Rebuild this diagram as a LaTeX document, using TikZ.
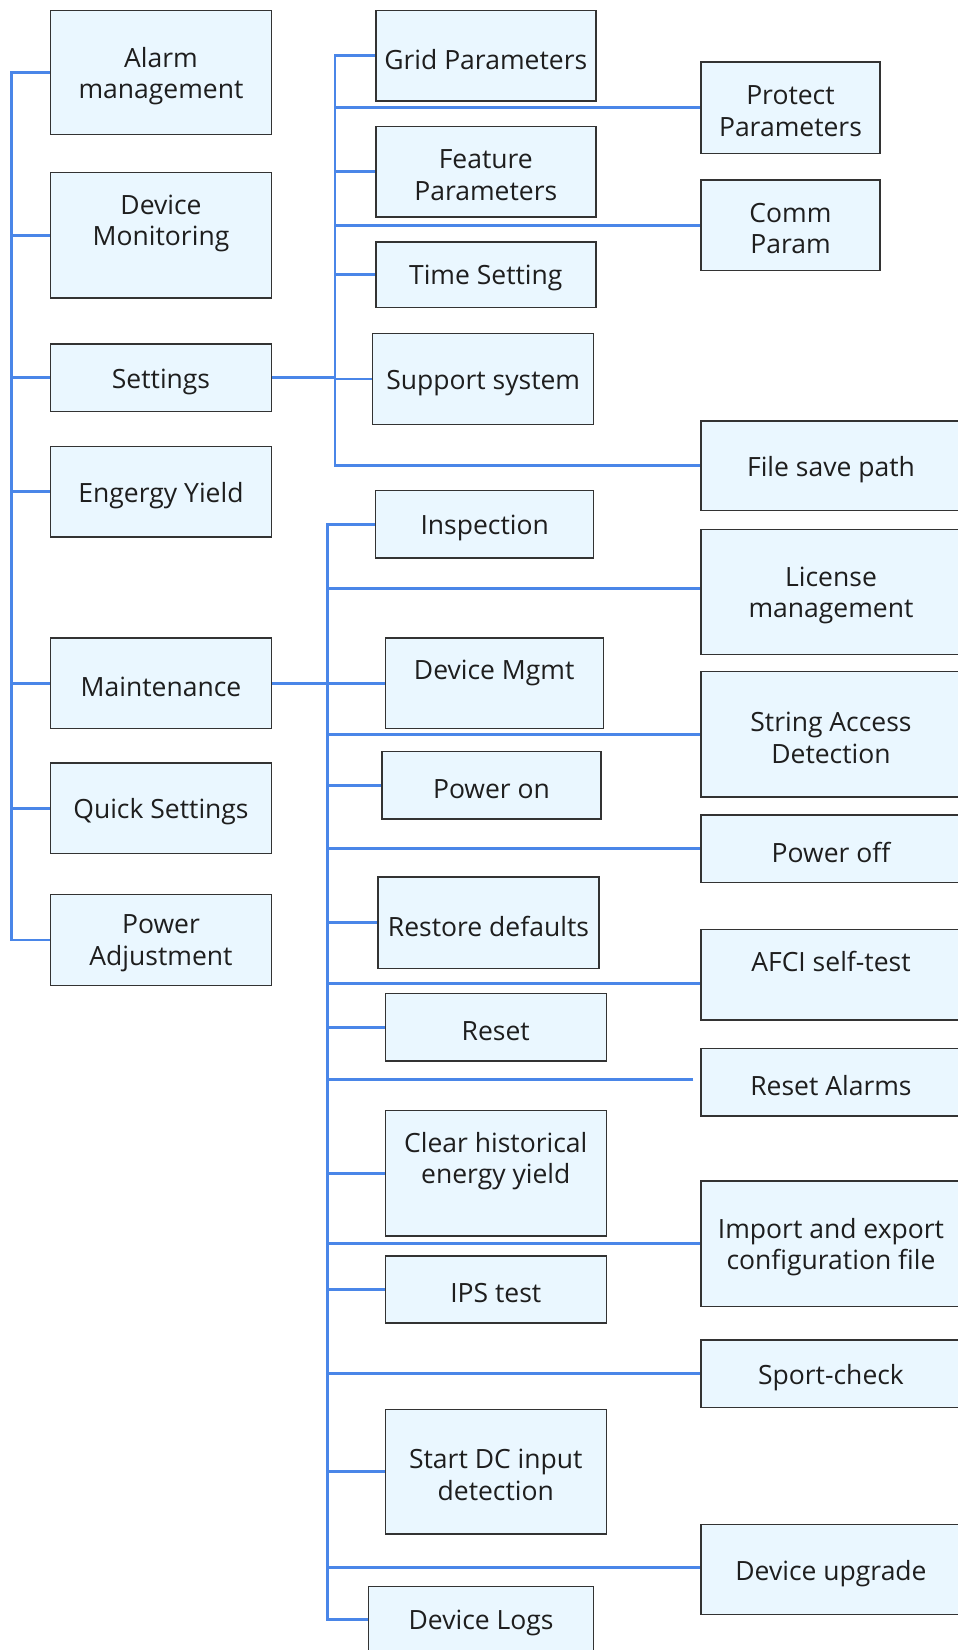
\documentclass[tikz,border=0pt]{standalone}
\usepackage{fontspec}
\setmainfont{Open Sans}
\usetikzlibrary{backgrounds}
\definecolor{boxfill}{HTML}{EAF7FF}
\definecolor{lineblue}{HTML}{4A86E8}
\definecolor{boxborder}{HTML}{333333}
\definecolor{txt}{HTML}{1E1E1E}
\newcommand{\bfnt}{\fontsize{26.5}{31.5}\selectfont}
% \mybox{name}{cx}{cy}{width}{height}{text}{text shift}
\newcommand{\mybox}[7]{%
  \node[box, minimum width=#4pt, minimum height=#5pt] (#1) at (#2,#3) {};
  \node[lbl] (#1-t) at ([yshift=#7pt]#1.center) {#6};}
\begin{document}
\begin{tikzpicture}[x=1pt,y=-1pt,
  box/.style={draw=boxborder, line width=1.4pt, fill=boxfill, inner sep=0pt},
  lbl/.style={inner sep=0pt, align=center, font=\bfnt, text=txt},
  conn/.style={draw=lineblue, line width=2.7pt, line join=miter}]
\begin{scope}[on background layer]
\fill[white] (0,0) rectangle (958,1650);
\end{scope}
\useasboundingbox (0,0) rectangle (958,1650);

% left column
\mybox{alarm}{161}{72.6}{221}{124.2}{Alarm\\management}{-3.4}
\mybox{devmon}{161}{235.3}{221}{125.3}{Device\\Monitoring}{11.9}
\mybox{settings}{161}{377.8}{221}{67.7}{Settings}{-4}
\mybox{energy}{161}{491.6}{221}{90.6}{Engergy Yield}{-3.7}
\mybox{maint}{161}{683.2}{221}{90.5}{Maintenance}{-3.7}
\mybox{quick}{161}{808.3}{221}{90.7}{Quick Settings}{-3.7}
\mybox{padj}{161}{940}{221}{90.5}{Power\\Adjustment}{-3.4}

% settings children
\mybox{grid}{485.8}{55.7}{220}{90.5}{Grid Parameters}{-3.7}
\mybox{protect}{790.5}{107.8}{179}{91.7}{Protect\\Parameters}{-3.4}
\mybox{feature}{485.8}{171.6}{220}{90.6}{Feature\\Parameters}{-3.4}
\mybox{comm}{790.5}{225.2}{179}{90.5}{Comm\\Param}{-3.4}
\mybox{time}{485.8}{274.7}{220}{65.4}{Time Setting}{-3.7}
\mybox{support}{483.2}{379}{221}{90.5}{Support system}{-3.7}
\mybox{filesave}{831}{465.8}{260}{89.6}{File save path}{-3.7}

% maintenance children
\mybox{insp}{484.7}{524.3}{218}{67.4}{Inspection}{-3.7}
\mybox{license}{831}{592.1}{260}{125.3}{License\\management}{-3.4}
\mybox{devmgmt}{494.2}{683.2}{218}{90.5}{Device Mgmt}{9.8}
\mybox{string}{831}{734.3}{260}{125.4}{String Access\\Detection}{-3.4}
\mybox{poweron}{491.5}{785.3}{219}{67.4}{Power on}{-3.7}
\mybox{poweroff}{831}{848.5}{260}{67.4}{Power off}{-3.7}
\mybox{restore}{488.5}{922.7}{221}{91.5}{Restore defaults}{-3.7}
\mybox{afci}{831}{974.7}{260}{90.5}{AFCI self-test}{13.5}
\mybox{reset}{495.8}{1027.4}{221}{67.3}{Reset}{-3.7}
\mybox{resetal}{831}{1082.2}{260}{67.5}{Reset Alarms}{-3.7}
\mybox{clear}{495.8}{1173.2}{221}{125.3}{Clear historical\\energy yield}{11.9}
\mybox{import}{831}{1243.7}{260}{125.4}{Import and export\\configuration file}{-3.4}
\mybox{ips}{495.8}{1289.5}{221}{67}{IPS test}{-3.7}
\mybox{sport}{831}{1373.8}{260}{67.5}{Sport-check}{-3.7}
\mybox{startdc}{495.8}{1471.7}{221}{124.2}{Start DC input\\detection}{-3.4}
\mybox{upgrade}{831}{1569.5}{260}{90.5}{Device upgrade}{-3.7}
\mybox{logs}{481.1}{1619.4}{225}{66}{Device Logs}{-3.7}

% trunks
\coordinate (lt) at (11.6,0);
\coordinate (st) at (335,0);
\coordinate (mt) at (327.5,0);
\coordinate (raend) at ([xshift=-7pt]resetal.west);

\begin{scope}[on background layer]
\draw[conn] (alarm.west) -- (alarm.west -| lt) -- (padj.west -| lt) -- (padj.west);
\foreach \n in {devmon,settings,energy,maint,quick}
  \draw[conn] (\n.west) -- (\n.west -| lt);

\draw[conn] (settings.east) -- (settings.east -| st);
\draw[conn] (grid.west) -- (grid.west -| st) -- (filesave.west -| st) -- (filesave.west);
\foreach \n in {protect,feature,comm,time,support}
  \draw[conn] (\n.west) -- (\n.west -| st);

\draw[conn] (maint.east) -- (maint.east -| mt);
\draw[conn] (insp.west) -- (insp.west -| mt) -- (logs.west -| mt) -- (logs.west);
\foreach \n in {devmgmt,string,poweron,poweroff,restore,reset,clear,import,ips,sport,startdc}
  \draw[conn] (\n.west) -- (\n.west -| mt);
\draw[conn] ([yshift=3.6pt]license.west) -- ([yshift=3.6pt]license.west -| mt);
\draw[conn] ([yshift=2pt]upgrade.west) -- ([yshift=2pt]upgrade.west -| mt);
\draw[conn] ([yshift=-8.5pt]afci.west) -- ([yshift=-8.5pt]afci.west -| mt);
\draw[conn] ([yshift=3pt]raend) -- ([yshift=3pt]raend -| mt);
\end{scope}
\end{tikzpicture}
\end{document}
